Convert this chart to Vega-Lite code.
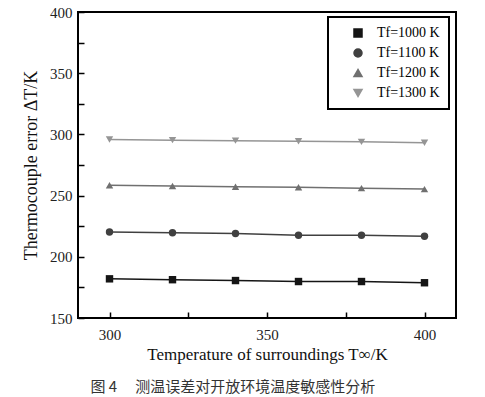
{
  "$schema": "https://vega.github.io/schema/vega-lite/v6.json",
  "width": 378,
  "height": 306,
  "autosize": "none",
  "padding": {"left": 78, "top": 12, "right": 29, "bottom": 79},
  "background": "white",
  "config": {
    "view": {"stroke": "black", "strokeWidth": 2},
    "font": "Liberation Serif",
    "axis": {"domain": false, "grid": false, "labelFont": "Liberation Serif", "labelFontSize": 15, "labelColor": "#222", "titleFont": "Liberation Serif", "titleFontSize": 17, "titleFontWeight": "normal", "titleColor": "#111", "tickColor": "black", "tickWidth": 1.5, "tickSize": 6, "offset": -6}
  },
  "title": {"text": "图\u00a04\u2003\u2009测温误差对开放环境温度敏感性分析", "orient": "bottom", "anchor": "start", "dx": 68, "offset": 18, "font": "Noto Sans CJK SC", "fontSize": 15, "fontWeight": "normal", "color": "#333"},
  "data": {"values": [
    {"x": 300, "y": 182.0, "s": "Tf=1000 K"},
    {"x": 320, "y": 181.3, "s": "Tf=1000 K"},
    {"x": 340, "y": 180.6, "s": "Tf=1000 K"},
    {"x": 360, "y": 179.8, "s": "Tf=1000 K"},
    {"x": 380, "y": 179.8, "s": "Tf=1000 K"},
    {"x": 400, "y": 178.8, "s": "Tf=1000 K"},
    {"x": 300, "y": 220.2, "s": "Tf=1100 K"},
    {"x": 320, "y": 219.6, "s": "Tf=1100 K"},
    {"x": 340, "y": 219.0, "s": "Tf=1100 K"},
    {"x": 360, "y": 217.6, "s": "Tf=1100 K"},
    {"x": 380, "y": 217.6, "s": "Tf=1100 K"},
    {"x": 400, "y": 216.8, "s": "Tf=1100 K"},
    {"x": 300, "y": 258.5, "s": "Tf=1200 K"},
    {"x": 320, "y": 257.8, "s": "Tf=1200 K"},
    {"x": 340, "y": 257.3, "s": "Tf=1200 K"},
    {"x": 360, "y": 256.8, "s": "Tf=1200 K"},
    {"x": 380, "y": 256.1, "s": "Tf=1200 K"},
    {"x": 400, "y": 255.3, "s": "Tf=1200 K"},
    {"x": 300, "y": 295.8, "s": "Tf=1300 K"},
    {"x": 320, "y": 295.3, "s": "Tf=1300 K"},
    {"x": 340, "y": 294.9, "s": "Tf=1300 K"},
    {"x": 360, "y": 294.4, "s": "Tf=1300 K"},
    {"x": 380, "y": 293.9, "s": "Tf=1300 K"},
    {"x": 400, "y": 293.2, "s": "Tf=1300 K"}
  ]},
  "encoding": {
    "x": {"field": "x", "type": "quantitative", "scale": {"domain": [290, 410], "nice": false, "zero": false},
      "axis": {"values": [300, 325, 350, 375, 400], "labelExpr": "datum.value % 50 === 0 ? datum.label : ''", "labelPadding": 9, "title": "Temperature of surroundings T∞/K", "titlePadding": 4}},
    "y": {"field": "y", "type": "quantitative", "scale": {"domain": [150, 400], "nice": false, "zero": false},
      "axis": {"values": [150, 175, 200, 225, 250, 275, 300, 325, 350, 375, 400], "labelExpr": "datum.value % 50 === 0 ? datum.label : ''", "labelPadding": 6, "title": "Thermocouple error ΔT/K", "titleFontSize": 18, "titlePadding": 9}},
    "color": {"field": "s", "type": "nominal", "scale": {"domain": ["Tf=1000 K", "Tf=1100 K", "Tf=1200 K", "Tf=1300 K"], "range": ["#151515", "#404040", "#707070", "#959595"]},
      "legend": {"title": null, "orient": "none", "legendX": 250, "legendY": 5, "fillColor": "white", "strokeColor": "black", "padding": 9, "symbolSize": 64, "symbolOffset": 14, "labelOffset": 12, "rowPadding": 6, "labelFont": "Liberation Serif", "labelFontSize": 14, "labelColor": "black",
        "encode": {
          "legend": {"update": {"strokeWidth": {"value": 2}}}
        }}}
  },
  "layer": [
    {"mark": {"type": "line", "strokeWidth": 1.5}},
    {"mark": {"type": "point", "filled": true, "size": 55, "opacity": 1},
      "encoding": {"shape": {"field": "s", "type": "nominal", "scale": {"domain": ["Tf=1000 K", "Tf=1100 K", "Tf=1200 K", "Tf=1300 K"], "range": ["square", "circle", "triangle-up", "triangle-down"]}, "legend": null}}}
  ]
}
